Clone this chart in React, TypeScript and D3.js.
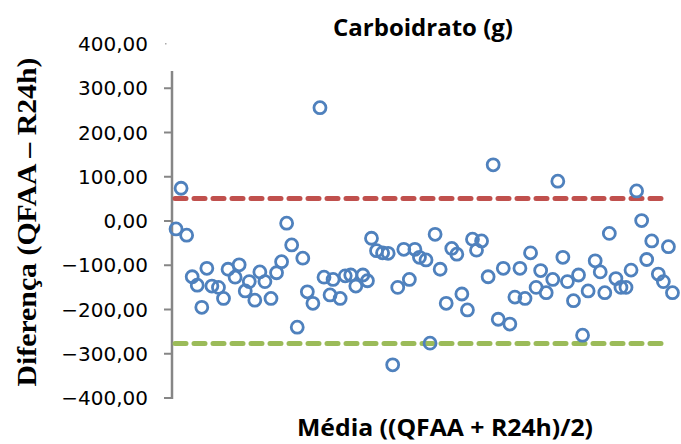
import React from "react";
import * as d3 from "d3";

// média (relative position along x) and diferença (QFAA - R24h), in g
const media = [
  0.8, 1.8, 2.9, 4.0, 5.0, 6.9, 5.9, 7.9, 9.2, 10.2, 11.1, 12.5, 13.3, 14.5, 15.3, 16.4,
  17.4, 18.4, 19.6, 20.7, 21.7, 22.7, 23.7, 25.9, 24.8, 26.8, 27.9, 29.3, 30.1, 31.9, 31.3,
  33.3, 34.3, 35.4, 36.4, 37.8, 38.7, 39.5, 40.5, 41.7, 42.8, 43.7, 44.7, 45.9, 47.0, 48.1,
  49.0, 50.3, 51.1, 52.1, 53.1, 54.3, 55.4, 56.4, 57.4, 58.5, 59.5, 60.3, 61.3, 62.6, 63.6,
  64.6, 65.6, 66.9, 68.9, 67.9, 69.9, 71.0, 72.1, 73.0, 74.1, 75.4, 76.4, 77.4, 78.3, 79.5,
  80.5, 81.3, 82.4, 83.8, 84.8, 85.7, 86.6, 87.9, 88.9, 89.9, 90.9, 92.0, 93.0, 94.0, 95.0,
  96.3, 97.3, 98.3, 99.1,
];
const diferenca = [
  -18, 74, -32, -126, -145, -107, -195, -147, -150, -175, -109, -127, -99, -158, -137, -179,
  -115, -137, -175, -117, -92, -5, -54, -84, -240, -160, -186, 256, -127, -132, -167,
  -175, -124, -122, -147, -122, -135, -39, -67, -72, -73, -325, -150, -64, -132, -64,
  -82, -88, -276, -30, -109, -186, -62, -75, -165, -201, -41, -66, -45, -126, 127,
  -222, -107, -233, -107, -172, -175, -72, -150, -112, -162, -132, 90, -82, -137, -180,
  -122, -258, -158, -90, -115, -162, -28, -130, -150, -150, -111, 68, 1, -87, -45,
  -120, -137, -58, -162,
];
const limites = [
  { value: 51, color: "#C0504D" },
  { value: -277, color: "#9BBB59" },
];
const yTicks = [400, 300, 200, 100, 0, -100, -200, -300, -400];

const W = 681;
const H = 444;

export default function App() {
  const x = d3.scaleLinear().domain([0, 100]).range([172, 677]);
  const y = d3.scaleLinear().domain([-400, 400]).range([398, 44]);
  const plotTop = 71;
  const fmt = (v: number) => d3.format(".2f")(v).replace(".", ",");
  const points = media.map((m, i) => ({ m, d: diferenca[i] }));

  return (
    <svg width={W} height={H} style={{ display: "block", position: "absolute", left: 0, top: 0 }}>
      <rect width={W} height={H} fill="white" />
      <text
        x={423}
        y={36}
        textAnchor="middle"
        fontFamily="'Open Sans', sans-serif"
        fontWeight={700}
        fontSize={23}
        textLength={180}
        lengthAdjust="spacingAndGlyphs"
      >
        Carboidrato (g)
      </text>

      {/* eixo y */}
      <line x1={x(0)} x2={x(0)} y1={plotTop} y2={y(-400) + 1} stroke="#868686" strokeWidth={2.5} />
      {yTicks.map(t => (
        <g key={t}>
          {y(t) >= plotTop ? (
            <line x1={164} x2={x(0)} y1={y(t)} y2={y(t)} stroke="#868686" strokeWidth={2} />
          ) : (
            <rect x={165} y={y(t) - 1} width={1.5} height={1.5} fill="#aaa" />
          )}
          <text
            x={148}
            y={y(t)}
            dy="0.36em"
            textAnchor="end"
            fontFamily="'DejaVu Sans', sans-serif"
            fontSize={20}
            fill="#000"
          >
            {fmt(t)}
          </text>
        </g>
      ))}

      {limites.map(l => (
        <line
          key={l.value}
          x1={x(0) + 3}
          x2={667}
          y1={y(l.value)}
          y2={y(l.value)}
          stroke={l.color}
          strokeWidth={5}
          strokeDasharray="11 8"
          strokeLinecap="round"
        />
      ))}

      {points.map((p, i) => (
        <circle
          key={i}
          cx={x(p.m)}
          cy={y(p.d)}
          r={6}
          fill="none"
          stroke="#4F81BD"
          strokeWidth={2.8}
        />
      ))}

      <text
        x={445}
        y={436}
        textAnchor="middle"
        fontFamily="'Open Sans', sans-serif"
        fontWeight={700}
        fontSize={24}
        textLength={296}
        lengthAdjust="spacingAndGlyphs"
      >
        Média ((QFAA + R24h)/2)
      </text>
      <text
        transform={`translate(36, 222) rotate(-90)`}
        textAnchor="middle"
        fontFamily="'Liberation Serif', serif"
        fontWeight={700}
        fontSize={27}
        textLength={329}
        lengthAdjust="spacingAndGlyphs"
      >
        Diferença (QFAA – R24h)
      </text>
    </svg>
  );
}
